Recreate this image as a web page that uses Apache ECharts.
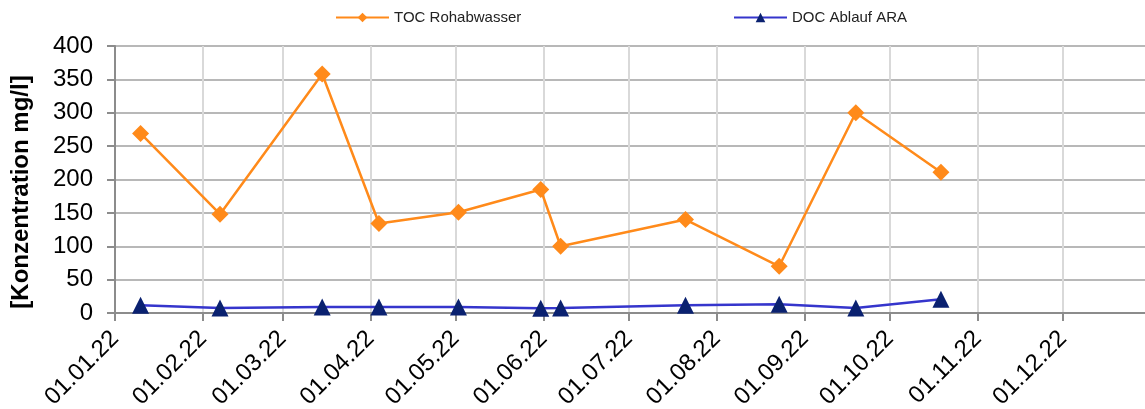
<!DOCTYPE html>
<html>
<head>
<meta charset="utf-8">
<script src="https://cdn.jsdelivr.net/npm/echarts@6/dist/echarts.min.js"></script>
<style>
    html, body { margin: 0; padding: 0; background: #fff; }
    #chart { width: 1145px; height: 409px; }
</style>
</head>
<body>
<div id="chart"></div>
<script>
    // sampling dates and measured values
    let dates = ['2022-01-10', '2022-02-07', '2022-03-15', '2022-04-04', '2022-05-02', '2022-05-31',
        '2022-06-07', '2022-07-21', '2022-08-23', '2022-09-19', '2022-10-19']
    let tocRohabwasser = [269, 148, 358, 134, 151, 185, 100, 140, 70, 300, 211]
    let docAblaufAra = [11.5, 7.5, 9, 9, 9, 7, 7.5, 11.5, 13, 7.5, 20.5]
    let yTicks = [0, 50, 100, 150, 200, 250, 300, 350, 400]

    function pair(vals) {
        return dates.map((d, i) => [d, vals[i]])
    }
    function fmtDate(v) {
        let d = new Date(v)
        let dd = String(d.getDate()).padStart(2, '0')
        let mm = String(d.getMonth() + 1).padStart(2, '0')
        let yy = String(d.getFullYear()).slice(2)
        return dd + '.' + mm + '.' + yy
    }

    const day = 24 * 3600 * 1000
    let font = "'Liberation Sans', Arial, sans-serif"

    let mycharts = echarts.init(document.getElementById('chart'))
    mycharts.setOption({
        animation: false,
        textStyle: { fontFamily: font },
        legend: [{
            data: ['TOC Rohabwasser'],
            left: 335,
            top: 10,
            padding: 0,
            itemWidth: 53,
            itemHeight: 12,
            textStyle: { color: '#222', fontSize: 15, fontFamily: font }
        }, {
            data: ['DOC Ablauf ARA'],
            left: 733,
            top: 10,
            padding: 0,
            itemWidth: 53,
            itemHeight: 12,
            textStyle: { color: '#222', fontSize: 15, fontFamily: font }
        }],
        grid: {
            left: 115,
            top: 46,
            width: 1036,
            height: 267,
            outerBoundsMode: 'none'
        },
        xAxis: {
            type: 'time',
            min: '2022-01-01',
            max: '2023-01-01',
            splitNumber: 12,
            minInterval: 28 * day,
            maxInterval: 31 * day,
            axisLine: { show: true, lineStyle: { color: '#8c8c8c', width: 2 } },
            axisTick: { show: true, length: 8, lineStyle: { color: '#8c8c8c', width: 2 } },
            splitLine: { show: true, lineStyle: { color: '#d9d9d9', width: 2 } },
            axisLabel: {
                rotate: 45,
                color: '#000',
                fontSize: 24,
                fontFamily: font,
                margin: 22,
                showMaxLabel: false,
                hideOverlap: false,
                formatter: function (v) {
                    return fmtDate(v)
                }
            }
        },
        yAxis: {
            type: 'value',
            min: yTicks[0],
            max: yTicks[yTicks.length - 1],
            interval: 50,
            name: '[Konzentration mg/l]',
            nameLocation: 'middle',
            nameGap: 82,
            nameTextStyle: {
                color: '#000', fontSize: 24, fontWeight: 'bold', fontFamily: font,
                padding: [0, 25, 0, 0]
            },
            axisLine: { show: true, lineStyle: { color: '#8c8c8c', width: 2 } },
            axisTick: { show: true, length: 8, lineStyle: { color: '#8c8c8c', width: 2 } },
            splitLine: { show: true, lineStyle: { color: '#b8b8b8', width: 2 } },
            axisLabel: { color: '#000', fontSize: 24, fontFamily: font, margin: 22 }
        },
        series: [{
            name: 'TOC Rohabwasser',
            type: 'line',
            symbol: 'diamond',
            symbolSize: 17,
            lineStyle: { color: '#ff8a1a', width: 2.5 },
            itemStyle: { color: '#ff8a1a' },
            data: pair(tocRohabwasser)
        }, {
            name: 'DOC Ablauf ARA',
            type: 'line',
            symbol: 'triangle',
            symbolSize: 17,
            lineStyle: { color: '#3535cc', width: 2.5 },
            itemStyle: { color: '#0a2170' },
            data: pair(docAblaufAra)
        }]
    })
</script>
</body>
</html>
